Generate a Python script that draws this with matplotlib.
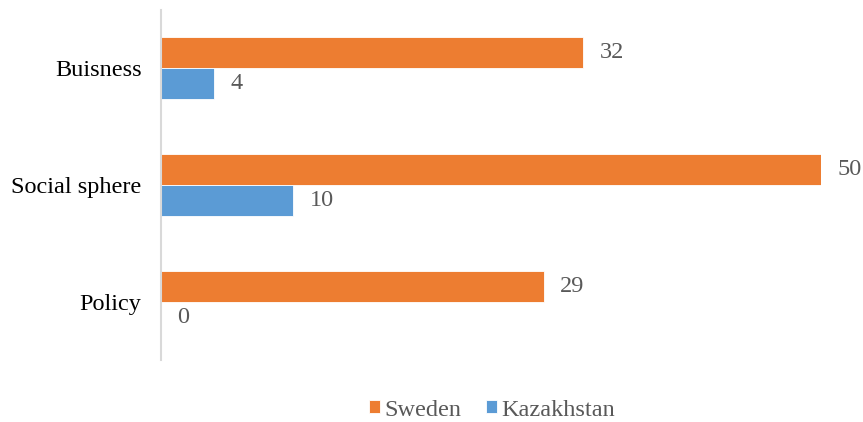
#!/usr/bin/env python3
"""Horizontal grouped bars: Sweden vs Kazakhstan by sphere."""

import matplotlib
matplotlib.use("Agg")
import matplotlib.pyplot as plt
import numpy as np

matplotlib.rcParams.update(
    {
        "font.family": ["Liberation Serif", "DejaVu Serif"],
        "font.size": 17.5,
        "figure.facecolor": "white",
        "axes.facecolor": "white",
    }
)

categories = ["Buisness", "Social sphere", "Policy"]
sweden = [32, 50, 29]
kazakhstan = [4, 10, 0]

orange = "#ED7D31"
blue = "#5B9BD5"
label_grey = "#595959"

fig = plt.figure(figsize=(8.63, 4.22), dpi=100)
# axes box in pixels: x 161..821, y 10..360 (from top)
ax = fig.add_axes([161 / 863, 1 - 360 / 422, 660 / 863, 350 / 422])

y = np.arange(len(categories))
h = 0.265

b1 = ax.barh(y - h / 2, sweden, height=h, color=orange, edgecolor="white",
             linewidth=0.6, label="Sweden")
b2 = ax.barh(y + h / 2, kazakhstan, height=h, color=blue, edgecolor="white",
             linewidth=0.6, label="Kazakhstan")

for bars in (b1, b2):
    for rect in bars:
        val = rect.get_width()
        ax.text(val + 1.25, rect.get_y() + rect.get_height() / 2, f"{val:g}",
                va="center", ha="left", fontsize=17.5, color=label_grey,
                clip_on=False)

ax.set_xlim(0, 50)
ax.set_ylim(2.5, -0.5)
ax.set_yticks(y, labels=categories)
ax.set_xticks([])
ax.tick_params(axis="y", length=0, pad=14, labelcolor="black")

for side in ("top", "right", "bottom"):
    ax.spines[side].set_visible(False)
ax.spines["left"].set_color("#D9D9D9")
ax.spines["left"].set_linewidth(1.5)

leg = fig.legend(
    handles=[b1, b2],
    loc="center",
    bbox_to_anchor=(492 / 863, 1 - 410 / 422),
    ncol=2,
    frameon=False,
    handlelength=0.45,
    handleheight=0.45,
    handletextpad=0.2,
    columnspacing=1.0,
    fontsize=17.5,
)
for t in leg.get_texts():
    t.set_color(label_grey)

fig.savefig("out.png", dpi=100)
